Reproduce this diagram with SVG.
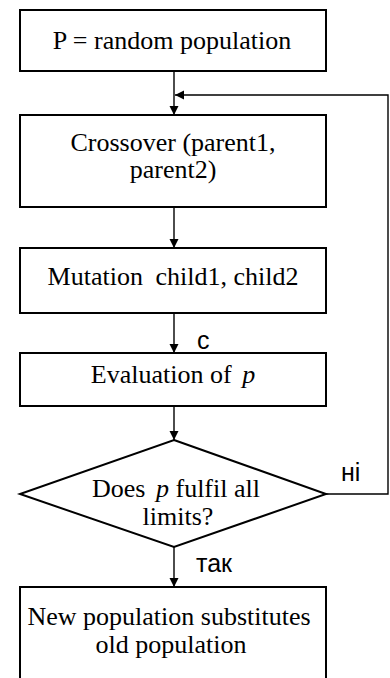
<svg xmlns="http://www.w3.org/2000/svg" width="390" height="678" viewBox="0 0 390 678">
<style>
.box{fill:#fff;stroke:#000;stroke-width:2}
.t{font-family:'Liberation Serif','Times New Roman',Times,serif;font-size:26px;fill:#000;text-anchor:middle}
.l{font-family:'Liberation Sans',Arial,sans-serif;font-size:25px;fill:#000}
.c{fill:none;stroke:#000;stroke-width:1.4}
</style>
<defs>
<marker id="ah" markerUnits="userSpaceOnUse" markerWidth="10" markerHeight="10" refX="9" refY="5" orient="auto">
<path d="M0,0.5 L9,5 L0,9.5 Z" fill="#000"/>
</marker>
</defs>
<rect width="390" height="678" fill="#fff"/>
<g id="connectors">
<line class="c" x1="174" y1="71" x2="174" y2="115" marker-end="url(#ah)"/>
<line class="c" x1="174" y1="207" x2="174" y2="248" marker-end="url(#ah)"/>
<line class="c" x1="174" y1="313" x2="174" y2="353" marker-end="url(#ah)"/>
<line class="c" x1="174" y1="406" x2="174" y2="440" marker-end="url(#ah)"/>
<line class="c" x1="174" y1="547" x2="174" y2="587" marker-end="url(#ah)"/>
<polyline class="c" points="326,494 388,494 388,95 175,95" marker-end="url(#ah)"/>
<text class="l" x="197" y="349">с</text>
<text class="l" x="341" y="481">ні</text>
<text class="l" x="196" y="572">так</text>
</g>
<g id="n1">
<rect class="box" x="20" y="10" width="306" height="61"/>
<text class="t" x="172" y="49">P = random population</text>
</g>
<g id="n2">
<rect class="box" x="20" y="115" width="306" height="92"/>
<text class="t" x="173" y="151">Crossover (parent1,</text>
<text class="t" x="173" y="178">parent2)</text>
</g>
<g id="n3">
<rect class="box" x="20" y="248" width="306" height="65"/>
<text class="t" x="173" y="285">Mutation <tspan dx="6">child1, child2</tspan></text>
</g>
<g id="n4">
<rect class="box" x="20" y="353" width="306" height="53"/>
<text class="t" x="173" y="383">Evaluation of <tspan dx="4" font-style="italic">p</tspan></text>
</g>
<g id="n5">
<polygon class="box" points="174,440 326,494 174,547 20,494"/>
<text class="t" x="176" y="497">Does <tspan dx="4" font-style="italic">p</tspan> fulfil all</text>
<text class="t" x="178" y="525">limits?</text>
</g>
<g id="n6">
<rect class="box" x="20" y="587" width="306" height="110"/>
<text class="t" x="169" y="625">New population substitutes</text>
<text class="t" x="171" y="653">old population</text>
</g>
</svg>
